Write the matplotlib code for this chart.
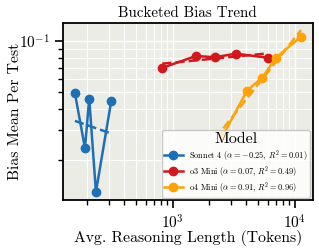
import matplotlib
matplotlib.use("Agg")
import matplotlib.pyplot as plt
import numpy as np

plt.rcParams['font.family'] = 'serif'
plt.rcParams['font.serif'] = ['cmr10']
plt.rcParams['mathtext.fontset'] = 'cm'
plt.rcParams['axes.formatter.use_mathtext'] = True

# bucketed values
sonnet_x = [159, 192, 208, 236, 315]
sonnet_y = [0.0494, 0.0235, 0.0460, 0.0130, 0.0446]
o3_x = [822, 1551, 2218, 3273, 5985]
o3_y = [0.0697, 0.0819, 0.0805, 0.0845, 0.0800]
o4_x = [2594, 4050, 5410, 6950, 11200]
o4_y = [0.0281, 0.0512, 0.0611, 0.0797, 0.1064]

names = ["Sonnet 4", "o3 Mini", "o4 Mini"]
alphas = [-0.25, 0.07, 0.91]
r2s = [0.01, 0.49, 0.96]
colors = ["#1f6fb4", "#d0191f", "#ffa20a"]


fig = plt.figure(figsize=(3.19, 2.5), dpi=100)
ax = fig.add_axes([0.1975, 0.2, 0.7825, 0.708])
ax.set_facecolor('#ecece6')

series = [(sonnet_x, sonnet_y), (o3_x, o3_y), (o4_x, o4_y)]
for (xs, ys), name, a, r2, c in zip(series, names, alphas, r2s, colors):
    xs = np.array(xs, dtype=float)
    ys = np.array(ys)
    lab = name + r" ($\alpha = %.2f$, $R^2 = %.2f$)" % (a, r2)
    ax.plot(xs, ys, '-o', color=c, lw=1.8, ms=6, label=lab, zorder=3)
    # power law fit through the mean in log space
    lx = np.log10(xs)
    ly = np.log10(ys)
    fx = np.array([lx.min(), lx.max()])
    fy = ly.mean() + a * (fx - lx.mean())
    ax.plot(10 ** fx, 10 ** fy, '--', color=c, lw=1.8, zorder=3)

ax.set_xscale('log')
ax.set_yscale('log')
ax.set_xlim(127, 13930)
ax.set_ylim(0.01165, 0.128)
ax.yaxis.set_minor_formatter(matplotlib.ticker.NullFormatter())
ax.xaxis.set_minor_formatter(matplotlib.ticker.NullFormatter())

ax.grid(True, which='major', color='white', lw=1.0, zorder=0)
ax.grid(True, which='minor', color='white', lw=0.7, zorder=0)
ax.set_axisbelow(True)
for s in ax.spines.values():
    s.set_linewidth(1.3)
    s.set_color('black')
ax.tick_params(which='major', length=6, width=1.2, labelsize=11, direction='out')
ax.tick_params(which='minor', length=3.5, width=1.0, direction='out')

ax.set_title("Bucketed Bias Trend", fontsize=10.8, pad=4)
ax.set_xlabel("Avg. Reasoning Length (Tokens)", fontsize=11.3, labelpad=-1)
ax.set_ylabel("Bias Mean Per Test", fontsize=11.3, labelpad=-2)

leg = ax.legend(title="Model", loc='lower right', fontsize=6, title_fontsize=11.5,
                framealpha=0.8, edgecolor='#bbbbbb', borderaxespad=0.3,
                handlelength=2.2, labelspacing=0.15, borderpad=0.3)

fig.savefig("out.png", dpi=100)
